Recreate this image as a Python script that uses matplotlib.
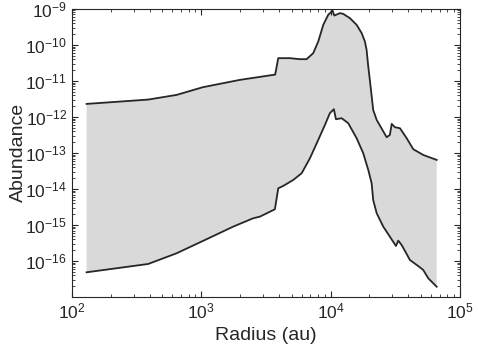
import matplotlib.pyplot as plt
import numpy as np
from matplotlib.ticker import LogLocator, NullFormatter

plt.rcParams['font.family'] = ['Liberation Sans', 'DejaVu Sans']

# upper envelope (log10 radius, log10 abundance)
upper_logr = [2.114, 2.590, 2.810, 3.013, 3.299, 3.572, 3.596, 3.686, 3.763, 3.815, 3.866, 3.905,
              3.944, 3.982, 4.016, 4.029, 4.073, 4.098, 4.150, 4.202, 4.241, 4.266, 4.279, 4.292,
              4.310, 4.330, 4.357, 4.434, 4.459, 4.473, 4.498, 4.537, 4.589, 4.640, 4.717, 4.821]
upper_loga = [-11.639, -11.519, -11.389, -11.175, -10.972, -10.825, -10.369, -10.369, -10.397, -10.397,
              -10.231, -9.908, -9.444, -9.167, -9.047, -9.186, -9.119, -9.139, -9.258, -9.444, -9.675,
              -9.908, -10.139, -10.603, -11.158, -11.806, -12.083, -12.564, -12.500, -12.194, -12.286,
              -12.314, -12.592, -12.897, -13.056, -13.194]

# lower envelope
lower_logr = [2.114, 2.590, 2.810, 3.029, 3.247, 3.402, 3.454, 3.570, 3.596, 3.634, 3.712, 3.777,
              3.841, 3.905, 3.957, 3.995, 4.026, 4.042, 4.086, 4.137, 4.202, 4.253, 4.292, 4.318,
              4.330, 4.357, 4.408, 4.459, 4.506, 4.524, 4.550, 4.614, 4.691, 4.717, 4.756, 4.821]
lower_loga = [-16.314, -16.083, -15.786, -15.417, -15.047, -14.814, -14.769, -14.564, -13.981, -13.917,
              -13.750, -13.564, -13.147, -12.639, -12.222, -11.897, -11.786, -12.064, -12.036, -12.175,
              -12.592, -13.008, -13.472, -13.842, -14.306, -14.675, -15.047, -15.325, -15.583, -15.436,
              -15.556, -15.972, -16.175, -16.250, -16.481, -16.714]

r_up = 10 ** np.array(upper_logr)
a_up = 10 ** np.array(upper_loga)
r_lo = 10 ** np.array(lower_logr)
a_lo = 10 ** np.array(lower_loga)

fig = plt.figure(figsize=(4.79, 3.54), dpi=100)
ax = fig.add_axes([0.150, 0.161, 0.810, 0.814])

# band between the two curves
poly_r = np.concatenate([r_up, r_lo[::-1]])
poly_a = np.concatenate([a_up, a_lo[::-1]])
ax.fill(poly_r, poly_a, color='#d9d9d9', lw=0)

ax.plot(r_up, a_up, color='#262626', lw=1.3)
ax.plot(r_lo, a_lo, color='#262626', lw=1.3)

ax.set_xscale('log')
ax.set_yscale('log')
ax.set_xlim(1e2, 1e5)
ax.set_ylim(1e-17, 1e-9)
ax.set_yticks([10.0 ** k for k in range(-16, -8)])
ax.yaxis.set_minor_locator(LogLocator(base=10, subs=np.arange(2, 10), numticks=100))
ax.yaxis.set_minor_formatter(NullFormatter())

ax.tick_params(which='both', direction='in', top=True, right=True, labelsize=12.5, colors='#262626')
ax.tick_params(which='major', length=4)
ax.tick_params(which='minor', length=2)
for s in ax.spines.values():
    s.set_color('#262626')
    s.set_linewidth(0.8)

ax.set_xlabel('Radius (au)', fontsize=14, color='#262626')
ax.set_ylabel('Abundance', fontsize=14, color='#262626')
ax.yaxis.set_label_coords(-0.116, 0.5)

plt.savefig('out.png', dpi=100)
